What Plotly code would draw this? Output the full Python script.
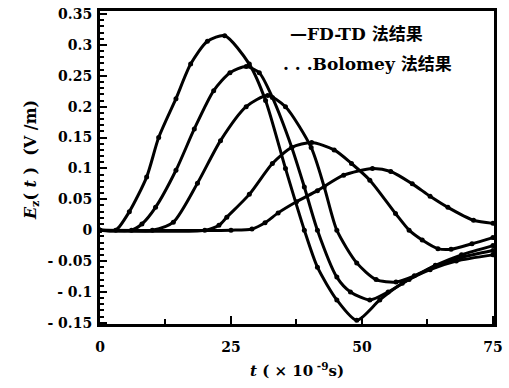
import plotly.graph_objects as go

# Curve data: time (x 1e-9 s) and E_z (V/m)
t1 = [0, 3, 5.6, 8.9, 11.2, 14.5, 17.3, 20.5, 23.8, 28.5, 31.6, 35.4, 39, 41.5, 45.2, 49, 53.4, 57.7, 63, 68, 75]
e1 = [0, 0, 0.03, 0.086, 0.15, 0.213, 0.269, 0.306, 0.315, 0.269, 0.21, 0.10, 0.0, -0.06, -0.113, -0.146, -0.113, -0.086, -0.064, -0.05, -0.04]

t2 = [0, 6, 8, 10.6, 14.5, 18, 21.7, 24.8, 27.9, 30.4, 32.9, 36.6, 39, 41.5, 45.2, 47.8, 51.5, 55, 59, 64, 69, 75]
e2 = [0, 0, 0.01, 0.037, 0.097, 0.164, 0.226, 0.255, 0.265, 0.255, 0.215, 0.134, 0.07, 0.0, -0.076, -0.10, -0.113, -0.1, -0.08, -0.058, -0.044, -0.033]

t3 = [0, 10, 14, 18.6, 23, 27.9, 32, 35.4, 40.3, 42.8, 45.2, 49, 52.7, 56.5, 60, 64, 69, 75]
e3 = [0, 0, 0.013, 0.076, 0.145, 0.2, 0.218, 0.2, 0.134, 0.07, 0.0, -0.053, -0.08, -0.084, -0.074, -0.057, -0.04, -0.025]

t4 = [0, 20, 22.7, 24.2, 28.5, 32.9, 36.6, 40.4, 44.7, 48, 51.5, 56.4, 59, 61.5, 64.5, 67, 71, 75]
e4 = [0, 0, 0.008, 0.021, 0.058, 0.108, 0.134, 0.142, 0.13, 0.108, 0.081, 0.027, 0.0, -0.016, -0.03, -0.031, -0.022, -0.012]

t5 = [0, 25, 29, 31.5, 34, 37.5, 41.5, 46.5, 52, 55.5, 59.6, 63, 66.4, 71.3, 75]
e5 = [0, 0, 0.002, 0.012, 0.028, 0.046, 0.064, 0.089, 0.1, 0.095, 0.075, 0.055, 0.037, 0.016, 0.011]

y_tickvals = [-0.15, -0.1, -0.05, 0, 0.05, 0.1, 0.15, 0.2, 0.25, 0.3, 0.35]
y_ticktext = ["- 0.15", "- 0.1", "- 0.05", "0", "0.05", "0.1", "0.15", "0.2", "0.25", "0.3", "0.35"]
x_tickvals = [0, 25, 50, 75]
x_ticktext = ["0", "25", "50", "75"]

curves = [(t1, e1), (t2, e2), (t3, e3), (t4, e4), (t5, e5)]

fig = go.Figure()
for tt, ee in curves:
    fig.add_trace(go.Scatter(
        x=tt, y=ee, mode="lines+markers",
        line=dict(color="black", width=3, shape="spline", smoothing=0.7),
        marker=dict(color="black", size=5),
        showlegend=False, cliponaxis=True,
    ))

serif = "DejaVu Serif, Liberation Serif, Noto Sans CJK SC, serif"
cjk = "Noto Sans CJK SC"

fig.update_xaxes(
    range=[0, 75.2], tickvals=x_tickvals, ticktext=x_ticktext,
    showgrid=False, zeroline=False,
    showline=True, linecolor="black", linewidth=3, mirror=True,
    ticks="inside", ticklen=8, tickwidth=2, tickcolor="black",
    minor=dict(dtick=12.5, ticks="inside", ticklen=5, tickwidth=2, tickcolor="black"),
    tickfont=dict(family=serif, size=14, color="black", weight="bold"),
    ticklabelstandoff=8,
)
fig.update_yaxes(
    range=[-0.152, 0.355], tickvals=y_tickvals, ticktext=y_ticktext,
    showgrid=False, zeroline=False,
    showline=True, linecolor="black", linewidth=3, mirror=True,
    ticks="inside", ticklen=7, tickwidth=2, tickcolor="black",
    minor=dict(dtick=0.01, ticks="inside", ticklen=4, tickwidth=1.5, tickcolor="black"),
    tickfont=dict(family=serif, size=14, color="black", weight="bold"),
    ticklabelstandoff=2,
)

fig.add_annotation(x=0.476, y=0.93, xref="paper", yref="paper", xanchor="left", yanchor="middle",
                   text="<b>—FD-TD </b><span style='font-family:Noto Sans CJK SC'><b>法结果</b></span>",
                   showarrow=False,
                   font=dict(family=serif, size=17, color="black"))
fig.add_annotation(x=0.459, y=0.834, xref="paper", yref="paper", xanchor="left", yanchor="middle",
                   text="<b>. . .Bolomey </b><span style='font-family:Noto Sans CJK SC'><b>法结果</b></span>",
                   showarrow=False,
                   font=dict(family=serif, size=17, color="black"))
fig.add_annotation(x=-0.174, y=0.525, xref="paper", yref="paper", xanchor="center", yanchor="middle",
                   text="<b><i>E</i><sub>z</sub>( <i>t</i> )  (V /m)</b>", textangle=-90, showarrow=False,
                   font=dict(family=serif, size=16, color="black"))
fig.add_annotation(x=0.5, y=-0.148, xref="paper", yref="paper", xanchor="center", yanchor="middle",
                   text="<b><i>t</i> ( × 10<sup> -9</sup>s)</b>", showarrow=False,
                   font=dict(family=serif, size=15, color="black"))

fig.update_layout(
    width=509, height=388,
    margin=dict(l=100, r=6, t=10, b=64),
    paper_bgcolor="white", plot_bgcolor="white",
)

fig.write_html("out.html")
